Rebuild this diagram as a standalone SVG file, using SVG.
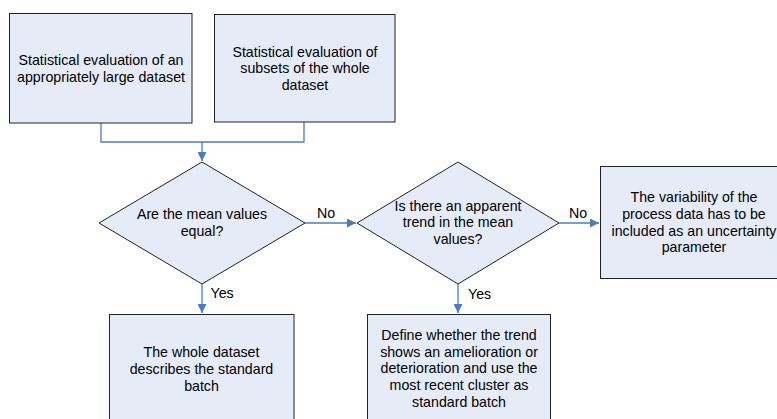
<svg xmlns="http://www.w3.org/2000/svg" width="777" height="419" viewBox="0 0 777 419">
<style>
.n{fill:#E6ECF7;stroke:#222;stroke-width:1}
.t{font-family:"Liberation Sans",Arial,sans-serif;font-size:14.2px;fill:#000;text-anchor:middle}
.l{font-family:"Liberation Sans",Arial,sans-serif;font-size:14.2px;fill:#000}
.c{fill:none;stroke:#4A7EBB;stroke-width:1.3}
</style>
<defs>
<marker id="a" viewBox="0 0 10 10" refX="10" refY="5" markerWidth="9" markerHeight="9" markerUnits="userSpaceOnUse" orient="auto">
<path d="M0,0 L10,5 L0,10 z" fill="#4A7EBB"/>
</marker>
</defs>
<rect width="777" height="419" fill="#fff"/>
<g id="connectors">
<path class="c" d="M101,123 V142 H304 V122"/>
<path class="c" d="M202,142 V161" marker-end="url(#a)"/>
<path class="c" d="M305,223 H356" marker-end="url(#a)"/>
<path class="c" d="M559,223 H599" marker-end="url(#a)"/>
<path class="c" d="M202,284 V313" marker-end="url(#a)"/>
<path class="c" d="M458,284 V313" marker-end="url(#a)"/>
<text class="l" x="317" y="217.7">No</text>
<text class="l" x="569" y="217.7">No</text>
<text class="l" x="210.5" y="298.3">Yes</text>
<text class="l" x="468" y="299">Yes</text>
</g>
<g id="box1">
<rect class="n" x="9.5" y="13.5" width="182.5" height="109.5"/>
<text class="t" x="101" y="65">Statistical evaluation of an</text>
<text class="t" x="101" y="82">appropriately large dataset</text>
</g>
<g id="box2">
<rect class="n" x="214.5" y="14.5" width="180.5" height="107.5"/>
<text class="t" x="305" y="56.7">Statistical evaluation of</text>
<text class="t" x="305" y="73.3">subsets of the whole</text>
<text class="t" x="305" y="90">dataset</text>
</g>
<g id="decision1">
<polygon class="n" points="202,162 305,223 202,284 99,223"/>
<text class="t" x="202" y="219.3">Are the mean values</text>
<text class="t" x="202" y="236.3">equal?</text>
</g>
<g id="decision2">
<polygon class="n" points="458,162 559,223 458,284 357,223"/>
<text class="t" x="458" y="210.7">Is there an apparent</text>
<text class="t" x="458" y="227.4">trend in the mean</text>
<text class="t" x="458" y="244.1">values?</text>
</g>
<g id="box4">
<rect class="n" x="600.5" y="166.5" width="190" height="112"/>
<text class="t" x="694" y="202.3">The variability of the</text>
<text class="t" x="694" y="219">process data has to be</text>
<text class="t" x="694" y="235.7">included as an uncertainty</text>
<text class="t" x="694" y="252.4">parameter</text>
</g>
<g id="box3">
<rect class="n" x="109.5" y="314.5" width="184.5" height="110"/>
<text class="t" x="201.5" y="357.3">The whole dataset</text>
<text class="t" x="201.5" y="374">describes the standard</text>
<text class="t" x="201.5" y="390.7">batch</text>
</g>
<g id="box5">
<rect class="n" x="367.5" y="314.5" width="183" height="110"/>
<text class="t" x="459" y="340">Define whether the trend</text>
<text class="t" x="459" y="356.7">shows an amelioration or</text>
<text class="t" x="459" y="373.4">deterioration and use the</text>
<text class="t" x="459" y="390">most recent cluster as</text>
<text class="t" x="459" y="406.7">standard batch</text>
</g>
</svg>
